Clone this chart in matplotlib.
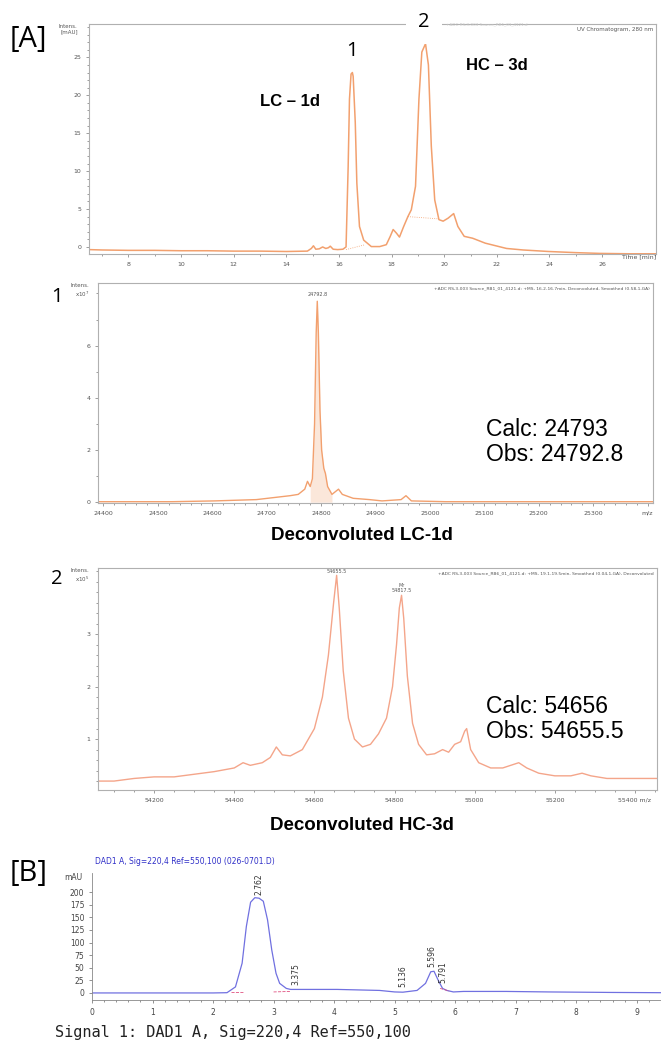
import matplotlib
matplotlib.use("Agg")
import matplotlib.pyplot as plt
from matplotlib.ticker import MultipleLocator

W, H = 661, 1046

# ---- [A] UV chromatogram, 280 nm ----
uv_time = [6.5, 7, 8, 9, 10, 11, 12, 13, 14, 14.8, 14.95, 15.03, 15.12, 15.25, 15.38, 15.5, 15.6, 15.67,
           15.78, 15.95, 16.15, 16.27, 16.35, 16.4, 16.46, 16.51, 16.54, 16.62, 16.68, 16.78, 16.94,
           17.23, 17.55, 17.8, 17.95, 18.06, 18.19, 18.3, 18.46, 18.62, 18.75, 18.91, 19.04, 19.15,
           19.29, 19.4, 19.51, 19.64, 19.8, 19.96, 20.15, 20.36, 20.52, 20.76, 21.08, 21.56, 22.37,
           23.0, 23.97, 25.0, 25.9, 27.0, 28.05]
uv_mau = [-0.35, -0.4, -0.45, -0.45, -0.5, -0.5, -0.55, -0.55, -0.6, -0.55, -0.2, 0.15, -0.3, -0.25,
          0.0, -0.2, -0.1, 0.1, -0.3, -0.35, -0.3, 0.0, 10.6, 19.5, 22.8, 23.0, 22.5, 16.4, 8.4, 2.7, 0.9,
          0.05, 0.05, 0.3, 1.4, 2.3, 1.8, 1.3, 2.7, 4.0, 4.9, 8.0, 19.5, 25.7, 26.8, 24.0, 13.3, 6.2,
          3.6, 3.4, 3.8, 4.4, 2.7, 1.4, 1.15, 0.5, -0.2, -0.4, -0.6, -0.75, -0.85, -0.9, -0.9]
uv_ticks = [8, 10, 12, 14, 16, 18, 20, 22, 24, 26]
uv_yticks = [0, 5, 10, 15, 20, 25]

# ---- 1: deconvoluted LC-1d ----
lc_mass = [24390, 24527, 24604, 24681, 24743, 24758, 24770, 24775, 24780, 24784, 24788, 24791,
           24793, 24795, 24798, 24801, 24805, 24808, 24812, 24820, 24832, 24839, 24859, 24889,
           24912, 24947, 24956, 24966, 25028, 25410]
lc_int = [0.02, 0.02, 0.05, 0.1, 0.25, 0.3, 0.5, 0.8, 0.6, 0.9, 3.0, 6.5, 7.7, 6.5, 3.5, 2.0, 1.3,
          1.1, 0.6, 0.3, 0.5, 0.3, 0.15, 0.1, 0.05, 0.1, 0.25, 0.05, 0.02, 0.02]
lc_ticks = [24400, 24500, 24600, 24700, 24800, 24900, 25000, 25100, 25200, 25300]

# ---- 2: deconvoluted HC-3d ----
hc_mass = [54060, 54100, 54150, 54200, 54250, 54300, 54350, 54400, 54422, 54440, 54470, 54490,
           54505, 54520, 54540, 54570, 54600, 54620, 54635, 54648, 54655.5, 54662, 54672, 54685,
           54700, 54720, 54740, 54760, 54780, 54795, 54805, 54812, 54817.5, 54823, 54832, 54845,
           54860, 54880, 54900, 54920, 54935, 54950, 54965, 54975, 54980, 54990, 55010, 55040,
           55070, 55090, 55110, 55130, 55160, 55200, 55240, 55268, 55290, 55330, 55400, 55455]
hc_int = [0.2, 0.2, 0.25, 0.28, 0.28, 0.33, 0.38, 0.45, 0.55, 0.5, 0.55, 0.65, 0.85, 0.7, 0.68,
          0.8, 1.2, 1.8, 2.6, 3.6, 4.12, 3.5, 2.3, 1.4, 1.0, 0.85, 0.9, 1.1, 1.4, 2.0, 2.8, 3.5,
          3.74, 3.3, 2.2, 1.3, 0.9, 0.7, 0.72, 0.8, 0.75, 0.9, 0.95, 1.15, 1.2, 0.8, 0.55, 0.45,
          0.45, 0.5, 0.55, 0.45, 0.35, 0.3, 0.3, 0.35, 0.3, 0.25, 0.25, 0.25]
hc_ticks = [54200, 54400, 54600, 54800, 55000, 55200, 55400]

# ---- [B] DAD1 A, 220 nm ----
dad_time = [0.0, 1.0, 2.0, 2.23, 2.37, 2.48, 2.55, 2.62, 2.69, 2.76, 2.83, 2.9, 2.97, 3.04, 3.1,
            3.21, 3.28, 3.375, 3.56, 4.05, 4.75, 5.0, 5.136, 5.37, 5.51, 5.596, 5.65, 5.72, 5.791,
            5.86, 5.97, 6.14, 6.84, 7.54, 8.58, 9.4]
dad_mau = [0, 0, 0, 0.5, 12, 59, 132, 180, 189, 188, 182, 145, 85, 39, 19, 9, 7, 7, 7, 7, 5, 2,
           1.5, 5, 19, 42, 43, 25, 9, 5, 2, 3, 3, 2, 1, 0.5]
dad_peaks = ["2.762", "3.375", "5.136", "5.596", "5.791"]
dad_peak_x = [2.762, 3.375, 5.136, 5.62, 5.791]
dad_label_y = [194, 15, 12, 52, 19]

orange = "#f2a06e"
tick_kw = dict(labelsize=4.5, labelcolor="#555555", color="#777777", length=2, width=0.5)


def rect(l, t, r, b):
    return [l / W, 1 - b / H, (r - l) / W, (b - t) / H]


def frame(ax):
    for s in ax.spines.values():
        s.set_color("#b0b0b0")
        s.set_linewidth(0.8)


fig = plt.figure(figsize=(W / 100, H / 100), dpi=100)

# panel A
ax = fig.add_axes(rect(89, 24, 656, 254))
ax.plot(uv_time, uv_mau, color=orange, lw=1.1)
ax.plot([16.27, 17.0], [-0.35, 0.3], color=orange, lw=0.6, ls=":")
ax.plot([18.62, 19.8], [4.0, 3.7], color=orange, lw=0.6, ls=":")
ax.set_xlim(6.5, 28.05)
ax.set_ylim(-0.93, 29.4)
ax.set_xticks(uv_ticks)
ax.set_yticks(uv_yticks)
ax.xaxis.set_minor_locator(MultipleLocator(1))
ax.yaxis.set_minor_locator(MultipleLocator(1))
ax.tick_params(which="both", **tick_kw)
ax.tick_params(which="minor", length=1.2)
frame(ax)
ax.text(27.4, -0.93, "Time [min]", fontsize=4.5, color="#555555", ha="center", va="top",
        transform=ax.transData)
ax.text(-0.02, 1.0, "Intens.\n[mAU]", transform=ax.transAxes, fontsize=4, color="#555555",
        ha="right", va="top")
ax.text(0.995, 0.985, "UV Chromatogram, 280 nm", transform=ax.transAxes, fontsize=4,
        color="#555555", ha="right", va="top")
ax.text(0.63, 1.0, "+ADC RS,3-003 Source_RB1_01_4121.d", transform=ax.transAxes, fontsize=3,
        color="#c8c8c8", ha="left", va="center")

# panel 1
ax1 = fig.add_axes(rect(98, 283, 653, 503))
ax1.fill_between(lc_mass, lc_int, where=[24778 <= m <= 24822 for m in lc_mass],
                 color=orange, alpha=0.25, lw=0)
ax1.plot(lc_mass, lc_int, color=orange, lw=1.0)
ax1.set_xlim(24390, 25410)
ax1.set_ylim(-0.03, 8.4)
ax1.set_xticks(lc_ticks + [25400])
ax1.set_xticklabels([str(t) for t in lc_ticks] + ["m/z"])
ax1.set_yticks([0, 2, 4, 6])
ax1.xaxis.set_minor_locator(MultipleLocator(20))
ax1.yaxis.set_minor_locator(MultipleLocator(1))
ax1.tick_params(which="both", **tick_kw)
ax1.tick_params(which="minor", length=1.2)
frame(ax1)
ax1.text(-0.015, 1.0, "Intens.\nx10$^7$", transform=ax1.transAxes, fontsize=4, color="#555555",
         ha="right", va="top")
ax1.text(0.995, 0.985, "+ADC RS,3-003 Source_RB1_01_4121.d: +MS, 16.2-16.7min, Deconvoluted, Smoothed (0.58,1,GA)",
         transform=ax1.transAxes, fontsize=3.2, color="#555555", ha="right", va="top")
ax1.text(24793, 7.85, "24792.8", fontsize=3.5, color="#555555", ha="center", va="bottom")

# panel 2
ax2 = fig.add_axes(rect(98, 568, 657, 790))
ax2.plot(hc_mass, hc_int, color="#f4a58a", lw=1.0)
ax2.set_xlim(54060, 55455)
ax2.set_ylim(0.03, 4.26)
ax2.set_xticks(hc_ticks)
ax2.set_xticklabels([str(t) for t in hc_ticks[:-1]] + ["55400 m/z"])
ax2.set_yticks([1, 2, 3])
ax2.xaxis.set_minor_locator(MultipleLocator(50))
ax2.yaxis.set_minor_locator(MultipleLocator(0.2))
ax2.tick_params(which="both", **tick_kw)
ax2.tick_params(which="minor", length=1.2)
frame(ax2)
ax2.text(-0.015, 1.0, "Intens.\nx10$^5$", transform=ax2.transAxes, fontsize=4, color="#555555",
         ha="right", va="top")
ax2.text(0.995, 0.985, "+ADC RS,3-003 Source_RB6_01_4121.d: +MS, 19.1-19.5min, Smoothed (0.04,1,GA), Deconvoluted",
         transform=ax2.transAxes, fontsize=3.2, color="#555555", ha="right", va="top")
ax2.text(54655.5, 4.15, "54655.5", fontsize=3.5, color="#555555", ha="center", va="bottom")
ax2.text(54817.5, 3.78, "Mr\n54817.5", fontsize=3.5, color="#555555", ha="center", va="bottom",
         linespacing=1.1)

# panel B
axb = fig.add_axes(rect(92, 873, 661, 1000))
axb.plot(dad_time, dad_mau, color="#7070e0", lw=0.9)
axb.plot([2.3, 2.5], [1, 1], color="#e05080", lw=0.6, ls="--")
axb.plot([3.0, 3.28], [2, 3], color="#e05080", lw=0.6, ls="--")
axb.plot([5.75, 5.9], [9, 4], color="#e05080", lw=0.6, ls="--")
axb.set_xlim(0, 9.4)
axb.set_ylim(-14, 238)
axb.set_xticks(range(10))
axb.set_yticks(range(0, 201, 25))
axb.xaxis.set_minor_locator(MultipleLocator(0.2))
axb.tick_params(which="both", labelsize=5.5, labelcolor="#444444", color="#666666", length=2,
                width=0.5)
axb.tick_params(which="minor", length=1.2)
for s in ["top", "right"]:
    axb.spines[s].set_visible(False)
for s in ["left", "bottom"]:
    axb.spines[s].set_color("#888888")
    axb.spines[s].set_linewidth(0.6)
for lab, px, py in zip(dad_peaks, dad_peak_x, dad_label_y):
    axb.text(px, py, lab, rotation=90, fontsize=5.5, color="#333333", ha="center", va="bottom",
             clip_on=False)
fig.text(95 / W, 1 - 862 / H, "DAD1 A, Sig=220,4 Ref=550,100 (026-0701.D)", fontsize=5.5,
         color="#3030c8", ha="left", va="center")
fig.text(73 / W, 1 - 878 / H, "mAU", fontsize=5.5, color="#444444", ha="center", va="center")

# big labels
fig.text(10 / W, 1 - 39 / H, "[A]", fontsize=21, family="Open Sans", va="center", ha="left")
fig.text(352 / W, 1 - 51 / H, "1", fontsize=14.5, family="Open Sans", va="center", ha="center")
fig.text(424 / W, 1 - 22 / H, "2", fontsize=14.5, family="Open Sans", va="center", ha="center",
         bbox=dict(boxstyle="square,pad=0.6", fc="white", ec="none"))
fig.text(290 / W, 1 - 101 / H, "LC – 1d", fontsize=12, weight="bold",
         family="Liberation Sans", ha="center", va="center")
fig.text(497 / W, 1 - 66 / H, "HC – 3d", fontsize=12, weight="bold",
         family="Liberation Sans", ha="center", va="center")
fig.text(57 / W, 1 - 297 / H, "1", fontsize=14.5, family="Open Sans", va="center", ha="center")
fig.text(57 / W, 1 - 579 / H, "2", fontsize=14.5, family="Open Sans", va="center", ha="center")
fig.text(362 / W, 1 - 535 / H, "Deconvoluted LC-1d", fontsize=13.5, weight="bold",
         family="Liberation Sans", ha="center", va="center")
fig.text(362 / W, 1 - 825 / H, "Deconvoluted HC-3d", fontsize=13.5, weight="bold",
         family="Liberation Sans", ha="center", va="center")
fig.text(486 / W, 1 - 442 / H, "Calc: 24793\nObs: 24792.8", fontsize=16.5,
         family="Liberation Sans", ha="left", va="center", linespacing=1.15)
fig.text(486 / W, 1 - 719 / H, "Calc: 54656\nObs: 54655.5", fontsize=16.5,
         family="Liberation Sans", ha="left", va="center", linespacing=1.15)
fig.text(10 / W, 1 - 873 / H, "[B]", fontsize=21, family="Open Sans", va="center", ha="left")
fig.text(55 / W, 1 - 1032 / H, "Signal 1: DAD1 A, Sig=220,4 Ref=550,100", fontsize=11,
         family="DejaVu Sans Mono", ha="left", va="center", color="#222222")

fig.savefig("out.png", dpi=100)
